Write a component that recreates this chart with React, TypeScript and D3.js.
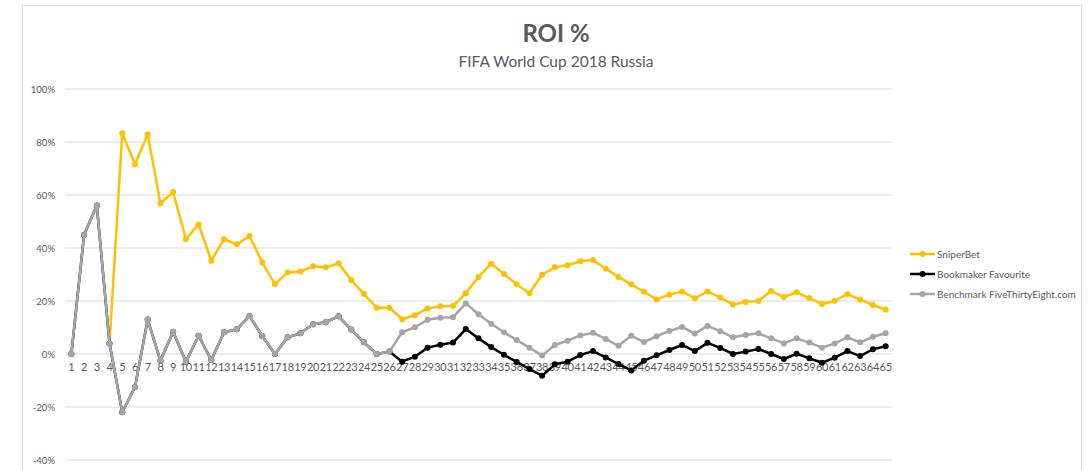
import React from "react";
import * as d3 from "d3";

const games: number[] = d3.range(1, 66);

const sniperBet: (number | null)[] = [
  null, null, null, 4, 83.3, 71.6, 82.9, 56.9, 61.1, 43.3,
  48.9, 35.2, 43.3, 41.4, 44.5, 34.6, 26.3, 30.8, 31.1, 33.1,
  32.7, 34.2, 27.9, 22.6, 17.5, 17.5, 13.1, 14.6, 17.2, 18,
  18.1, 22.9, 29.1, 34.1, 30.2, 26.3, 22.9, 29.9, 32.7, 33.5,
  35, 35.5, 32.2, 29.1, 26.3, 23.5, 20.6, 22.4, 23.6, 21,
  23.6, 21.3, 18.7, 19.6, 20, 23.8, 21.5, 23.3, 21.1, 18.9,
  20.1, 22.6, 20.5, 18.5, 16.7,
];

const bookmaker: (number | null)[] = [
  0, 45, 56, 4, -22, -12.5, 13, -2.5, 8.4, -2.9,
  6.9, -2.3, 8.2, 9.3, 14.3, 6.8, 0, 6.3, 7.8, 11.2,
  12, 14.2, 9.2, 4.4, 0, 0.9, -2.9, -1, 2.4, 3.5,
  4.3, 9.4, 5.9, 2.6, -0.3, -3, -5.7, -8.2, -3.9, -2.9,
  -0.4, 1.1, -1.3, -3.8, -6.2, -2.5, -0.5, 1.5, 3.4, 1.1,
  4.2, 2.3, 0, 0.9, 1.9, 0, -1.9, 0.1, -1.6, -3.3,
  -1.4, 1.1, -0.8, 1.8, 2.9,
];

const benchmark: (number | null)[] = [
  0, 45, 56, 4, -22, -12.5, 13, -2.5, 8.4, -2.9,
  6.9, -2.3, 8.2, 9.3, 14.3, 6.8, 0, 6.3, 7.8, 11.2,
  12, 14.2, 9.2, 4.4, 0, 0.9, 8.2, 10.1, 12.9, 13.7,
  13.9, 19.1, 15, 11.4, 8.2, 5.3, 2.4, -0.6, 3.4, 5,
  7, 8, 5.7, 3.1, 6.9, 4.5, 6.7, 8.7, 10.2, 7.7,
  10.6, 8.6, 6.3, 7.2, 7.8, 5.9, 4, 5.9, 4.3, 2.4,
  4, 6.3, 4.4, 6.5, 7.8,
];

const yTicks: number[] = [-40, -20, 0, 20, 40, 60, 80, 100];

const seriesNames: string[] = ["SniperBet", "Bookmaker Favourite", "Benchmark FiveThirtyEight.com"];
const seriesColors: string[] = ["#FFC000", "#000000", "#A5A5A5"];
const seriesData = [sniperBet, bookmaker, benchmark];

const FONT = "Lato, 'Open Sans', sans-serif";
const TEXT = "#595959";

export default function App() {
  const W = 1091;
  const H = 470;
  const plotL = 65;
  const plotR = 892;
  const yTop = 89;
  const yBot = 460;

  const x = d3
    .scaleBand<number>()
    .domain(games)
    .range([plotL, plotR]);
  const xc = (g: number) => (x(g) as number) + x.bandwidth() / 2;
  const y = d3.scaleLinear().domain([-40, 100]).range([yBot, yTop]);

  const line = d3
    .line<number | null>()
    .defined((d) => d !== null)
    .x((_, i) => xc(games[i]))
    .y((d) => y(d as number));

  return (
    <svg width={W} height={H} style={{ position: "absolute", left: 0, top: 0, background: "#fff" }}>
      <rect x={22.5} y={5.5} width={1059} height={480} fill="#fff" stroke="#D9D9D9" strokeWidth={1} />
      <text x={556} y={42} textAnchor="middle" fontFamily={FONT} fontWeight="bold" fontSize={24} fill={TEXT}>
        ROI %
      </text>
      <text x={556} y={67} textAnchor="middle" fontFamily={FONT} fontSize={15.5} fill={TEXT}>
        FIFA World Cup 2018 Russia
      </text>
      {yTicks.map((t) => (
        <g key={t}>
          <line x1={plotL} x2={plotR} y1={y(t)} y2={y(t)} stroke="#D9D9D9" strokeWidth={1} />
          <text x={55} y={y(t) + 3.5} textAnchor="end" fontFamily={FONT} fontSize={9.5} fill={TEXT}>
            {t}%
          </text>
        </g>
      ))}
      {games.map((g) => (
        <text
          key={g}
          x={xc(g)}
          y={371}
          textAnchor="middle"
          fontFamily={FONT}
          fontSize={11}
          fill={TEXT}
          letterSpacing={-0.3}
        >
          {g}
        </text>
      ))}
      {seriesData.map((s, si) => (
        <g key={si}>
          <path d={line(s) || ""} fill="none" stroke={seriesColors[si]} strokeWidth={2.5} strokeLinejoin="round" />
          {s.map((v, i) =>
            v === null ? null : (
              <circle key={i} cx={xc(games[i])} cy={y(v)} r={3} fill={seriesColors[si]} />
            )
          )}
        </g>
      ))}
      {seriesNames.map((n, i) => (
        <g key={n} transform={`translate(0, ${254 + i * 20})`}>
          <line x1={910} x2={935} y1={0} y2={0} stroke={seriesColors[i]} strokeWidth={2.5} />
          <circle cx={922.5} cy={0} r={3} fill={seriesColors[i]} />
          <text x={937} y={3.5} fontFamily={FONT} fontSize={10} fill={TEXT}>
            {n}
          </text>
        </g>
      ))}
    </svg>
  );
}
